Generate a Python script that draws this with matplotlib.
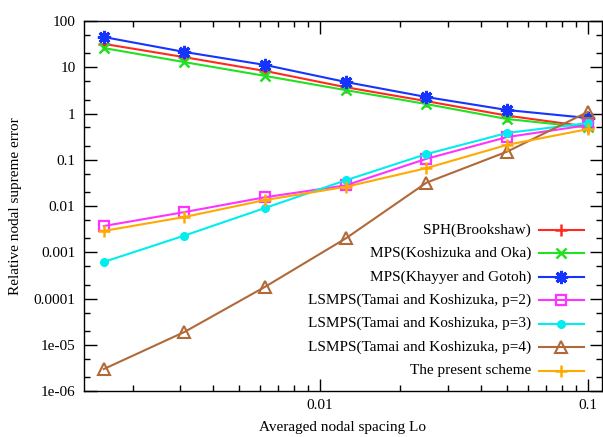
import matplotlib
matplotlib.use("Agg")
import matplotlib.pyplot as plt
from matplotlib.lines import Line2D
from matplotlib.ticker import LogLocator, NullFormatter

plt.rcParams["font.family"] = ["Liberation Serif", "DejaVu Serif"]
plt.rcParams["font.size"] = 11

# averaged nodal spacing
spacing = [0.0015625, 0.003125, 0.00625, 0.0125, 0.025, 0.05, 0.1]

# relative nodal supreme error, one list per scheme
sph_brookshaw = [32, 16.5, 8.3, 3.7, 1.85, 0.9, 0.52]
mps_koshizuka_oka = [26, 12.9, 6.5, 3.2, 1.6, 0.76, 0.5]
mps_khayyer_gotoh = [45, 21.4, 11.2, 4.8, 2.27, 1.19, 0.8]
lsmps_p2 = [0.0037, 0.0074, 0.0155, 0.028, 0.105, 0.31, 0.56]
lsmps_p3 = [0.00062, 0.0023, 0.0091, 0.036, 0.133, 0.38, 0.62]
lsmps_p4 = [3.0e-6, 1.9e-5, 0.00018, 0.002, 0.032, 0.15, 1.08]
present_scheme = [0.0029, 0.0058, 0.0135, 0.026, 0.066, 0.21, 0.46]

labels = [
    "SPH(Brookshaw)",
    "MPS(Koshizuka and Oka)",
    "MPS(Khayyer and Gotoh)",
    "LSMPS(Tamai and Koshizuka, p=2)",
    "LSMPS(Tamai and Koshizuka, p=3)",
    "LSMPS(Tamai and Koshizuka, p=4)",
    "The present scheme",
]
series = [sph_brookshaw, mps_koshizuka_oka, mps_khayyer_gotoh,
          lsmps_p2, lsmps_p3, lsmps_p4, present_scheme]

ytick_vals = [1e-6, 1e-5, 1e-4, 1e-3, 1e-2, 0.1, 1, 10, 100]
ytick_labels = ["1e-06", "1e-05", "0.0001", "0.001", "0.01", "0.1", "1", "10", "100"]
xtick_vals = [0.01, 0.1]
xtick_labels = ["0.01", "0.1"]

styles = [
    dict(color="#ff2a1f", marker="+", ms=9, mew=1.8, fillstyle="full"),
    dict(color="#22e022", marker="x", ms=7, mew=1.8, fillstyle="full"),
    dict(color="#1535ff", marker=(8, 2, 0), ms=9.5, mew=2.2, fillstyle="full"),
    dict(color="#ff33ff", marker="s", ms=7, mew=1.6, fillstyle="none"),
    dict(color="#00eeee", marker="o", ms=5.5, mew=1.0, fillstyle="full"),
    dict(color="#b06a3a", marker="^", ms=8, mew=1.5, fillstyle="none"),
    dict(color="#ffaa00", marker="+", ms=9, mew=1.8, fillstyle="full"),
]

fig = plt.figure(figsize=(6.03, 4.37), dpi=100)
ax = fig.add_axes([0.139, 0.105, 0.859, 0.847])

for ys, st in zip(series, styles):
    ax.plot(spacing, ys, lw=1.5, **st)

ax.set_xscale("log")
ax.set_yscale("log")
ax.set_xlim(0.001316, 0.1128)
ax.set_ylim(1e-6, 100)

ax.set_yticks(ytick_vals)
ax.set_yticklabels(ytick_labels)
ax.yaxis.set_minor_locator(LogLocator(base=10, subs=[2, 5], numticks=20))
ax.yaxis.set_minor_formatter(NullFormatter())
ax.set_xticks(xtick_vals)
ax.set_xticklabels(xtick_labels)
ax.xaxis.set_minor_locator(LogLocator(base=10, subs=range(2, 10), numticks=20))
ax.xaxis.set_minor_formatter(NullFormatter())

ax.tick_params(which="both", direction="in", top=True, right=True, width=1.0)
ax.tick_params(which="major", length=9, pad=6)
ax.tick_params(which="minor", length=4.5)
for sp in ax.spines.values():
    sp.set_linewidth(1.0)

ax.set_xlabel("Averaged nodal spacing Lo", labelpad=6)
ax.set_ylabel("Relative nodal supreme error", labelpad=8)

# legend drawn by hand so the text is right-aligned like the original
leg_y0 = 1 - (230 - 21) / 370.0
dy = 23.4 / 370.0
x_text = (532 - 84) / 519.0
x_l0 = (540 - 84) / 519.0
x_l1 = (585 - 84) / 519.0
for i, (lab, st) in enumerate(zip(labels, styles)):
    yy = leg_y0 - i * dy
    ax.text(x_text, yy, lab, transform=ax.transAxes, ha="right", va="center")
    ax.add_line(Line2D([x_l0, x_l1], [yy, yy], transform=ax.transAxes, lw=1.5,
                       color=st["color"]))
    ax.add_line(Line2D([(x_l0 + x_l1) / 2], [yy], transform=ax.transAxes, lw=0,
                       **st))

fig.savefig("out.png", dpi=100)
